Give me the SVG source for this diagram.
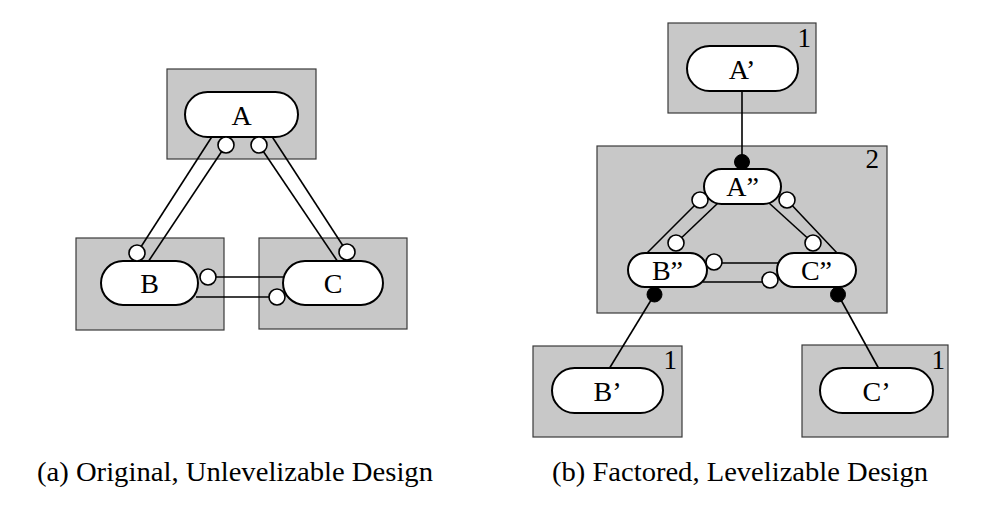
<svg xmlns="http://www.w3.org/2000/svg" width="999" height="512" viewBox="0 0 999 512">
<style>
.box{fill:#c8c8c8;stroke:#3a3a3a;stroke-width:1.2}
.pill{fill:#fff;stroke:#000;stroke-width:2}
.port{fill:#fff;stroke:#000;stroke-width:1.6}
.dot{fill:#000;stroke:#000;stroke-width:1}
.ln{stroke:#000;stroke-width:1.6;fill:none}
.lbl{font-family:"Liberation Serif","Times New Roman",serif;font-size:28px;fill:#000;text-anchor:middle}
.lvl{font-family:"Liberation Serif","Times New Roman",serif;font-size:27px;fill:#000;text-anchor:end}
.cap{font-family:"Liberation Serif","Times New Roman",serif;font-size:28px;fill:#000}
</style>
<rect width="999" height="512" fill="#fff"/>

<!-- boxes (left) -->
<g id="boxA"><rect class="box" x="167" y="69" width="149" height="90"/></g>
<g id="boxB"><rect class="box" x="76" y="238" width="148" height="92"/></g>
<g id="boxC"><rect class="box" x="259" y="238" width="148" height="91"/></g>
<!-- boxes (right) -->
<g id="boxA1"><rect class="box" x="668" y="23" width="148" height="90"/><text class="lvl" x="811" y="47">1</text></g>
<g id="box2"><rect class="box" x="597" y="146" width="290" height="167"/><text class="lvl" x="879" y="168">2</text></g>
<g id="boxB1"><rect class="box" x="533" y="346" width="149" height="91"/><text class="lvl" x="677" y="369">1</text></g>
<g id="boxC1"><rect class="box" x="802" y="345" width="146" height="92"/><text class="lvl" x="945" y="369">1</text></g>

<g id="connectors">
  <line class="ln" x1="213" y1="135" x2="137" y2="253"/>
  <line class="ln" x1="226" y1="145" x2="148" y2="262"/>
  <line class="ln" x1="259" y1="145" x2="338" y2="262"/>
  <line class="ln" x1="271" y1="135" x2="347" y2="252"/>
  <line class="ln" x1="208" y1="277" x2="284" y2="277"/>
  <line class="ln" x1="196" y1="297" x2="277" y2="297"/>

  <line class="ln" x1="742" y1="91" x2="742" y2="162"/>
  <line class="ln" x1="700" y1="200" x2="646" y2="254"/>
  <line class="ln" x1="718" y1="203" x2="676" y2="243"/>
  <line class="ln" x1="769" y1="203" x2="813" y2="243"/>
  <line class="ln" x1="787" y1="200" x2="838" y2="254"/>
  <line class="ln" x1="714" y1="263" x2="778" y2="263"/>
  <line class="ln" x1="703" y1="282" x2="770" y2="282"/>
  <line class="ln" x1="654.5" y1="294.5" x2="609" y2="369"/>
  <line class="ln" x1="838" y1="294.5" x2="879" y2="369"/>
</g>

<!-- left nodes -->
<g id="A">
  <rect class="pill" x="185" y="92" width="113" height="45" rx="22.5"/>
  <text class="lbl" x="241.5" y="124.5">A</text>
  <circle class="port" cx="226" cy="145" r="8"/>
  <circle class="port" cx="259" cy="145" r="8"/>
</g>
<g id="B">
  <rect class="pill" x="101" y="261" width="97" height="44" rx="22"/>
  <text class="lbl" x="149.5" y="293">B</text>
  <circle class="port" cx="137" cy="253" r="8"/>
  <circle class="port" cx="208" cy="277" r="8"/>
</g>
<g id="C">
  <rect class="pill" x="283" y="261" width="100" height="44" rx="22"/>
  <text class="lbl" x="333" y="293">C</text>
  <circle class="port" cx="347" cy="252" r="8"/>
  <circle class="port" cx="277" cy="297" r="8"/>
</g>

<!-- right nodes -->
<g id="A1">
  <rect class="pill" x="687" y="46" width="111" height="45" rx="22.5"/>
  <text class="lbl" x="742" y="78.5">A’</text>
</g>
<g id="A2">
  <circle class="dot" cx="742" cy="162" r="7.5"/>
  <rect class="pill" x="704" y="169" width="77" height="35" rx="17.5"/>
  <text class="lbl" x="742.5" y="196">A”</text>
  <circle class="port" cx="700" cy="200" r="8"/>
  <circle class="port" cx="787" cy="200" r="8"/>
</g>
<g id="B2">
  <rect class="pill" x="628" y="253" width="79" height="34" rx="17"/>
  <text class="lbl" x="667.5" y="280">B”</text>
  <circle class="port" cx="676" cy="243" r="8"/>
  <circle class="port" cx="714" cy="262" r="8"/>
  <circle class="dot" cx="654.5" cy="294.5" r="7.5"/>
</g>
<g id="C2">
  <rect class="pill" x="777" y="253" width="79" height="34" rx="17"/>
  <text class="lbl" x="816.5" y="280">C”</text>
  <circle class="port" cx="813" cy="243" r="8"/>
  <circle class="port" cx="770" cy="280" r="8"/>
  <circle class="dot" cx="838" cy="294.5" r="7.5"/>
</g>
<g id="B1">
  <rect class="pill" x="552" y="368" width="111" height="45" rx="22.5"/>
  <text class="lbl" x="607.5" y="400.5">B’</text>
</g>
<g id="C1">
  <rect class="pill" x="820" y="368" width="113" height="45" rx="22.5"/>
  <text class="lbl" x="876.5" y="400.5">C’</text>
</g>

<text class="cap" x="37" y="481" textLength="396" lengthAdjust="spacingAndGlyphs">(a) Original, Unlevelizable Design</text>
<text class="cap" x="552" y="481" textLength="376" lengthAdjust="spacingAndGlyphs">(b) Factored, Levelizable Design</text>
</svg>
